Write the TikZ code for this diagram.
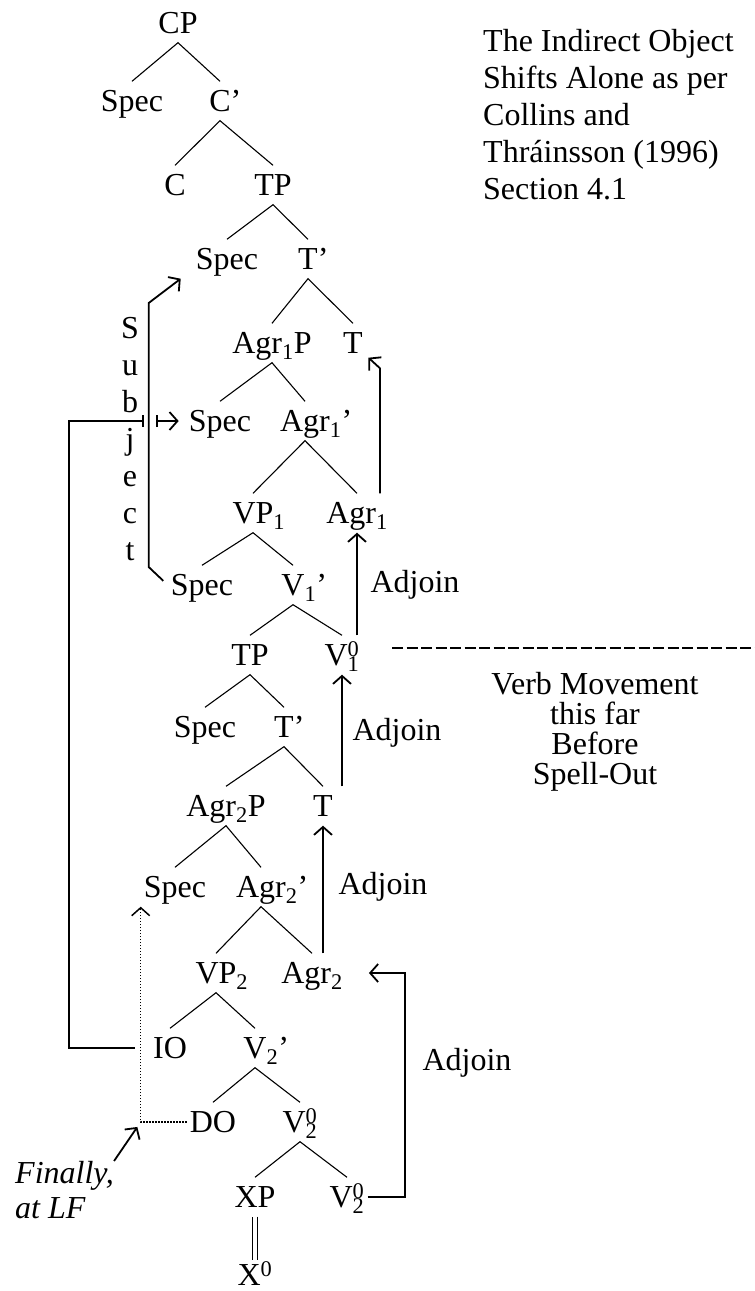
\documentclass[tikz,border=0pt]{standalone}
\usepackage{fontspec}
\setmainfont{Liberation Serif}
\usetikzlibrary{arrows.meta}
\newcommand{\Vnull}[1]{V\rlap{\textsubscript{#1}}\textsuperscript{0}}

\begin{document}
\begin{tikzpicture}[x=1pt,y=1pt,font=\fontsize{32}{37}\selectfont,>={Straight Barb[length=8pt,width=18pt]},
  lab/.style={text height=21pt,text depth=0pt,inner xsep=3pt,inner ysep=9pt},
  branch/.style={line width=1.1pt},
  arr/.style={line width=1.8pt,->}]
\useasboundingbox (0,0) rectangle (755,-1291);
% the tree
\node[lab] (cp) at (178,-23) {CP};
\node[lab] (spec1) at (132,-101) {Spec};
\node[lab] (cbar) at (220,-101) {C\rlap{'}};
\node[lab] (c) at (175,-185) {C};
\node[lab] (tp1) at (273,-185) {TP};
\node[lab] (spec2) at (227,-259) {Spec};
\node[lab] (tbar1) at (308,-259) {T\rlap{'}};
\node[lab] (agr1p) at (272,-343) {Agr\textsubscript{1}P};
\node[lab] (t1) at (353,-343) {T};
\node[lab] (spec3) at (220,-421) {Spec};
\node[lab] (agr1bar) at (305,-421) {Agr\rlap{\textsubscript{1}'}};
\node[lab] (vp1) at (253,-513) {VP\rlap{\textsubscript{1}}};
\node[lab] (agr1) at (357,-513) {Agr\textsubscript{1}};
\node[lab] (spec4) at (202,-585) {Spec};
\node[lab] (v1bar) at (293,-585) {V\rlap{\textsubscript{1}'}};
\node[lab] (tp2) at (250,-655) {TP};
\node[lab] (v1) at (342,-655) {\Vnull{1}};
\node[lab] (spec5) at (205,-727) {Spec};
\node[lab] (tbar2) at (284,-727) {T\rlap{'}};
\node[lab] (agr2p) at (226,-806) {Agr\textsubscript{2}P};
\node[lab] (t2) at (323,-806) {T};
\node[lab] (spec6) at (175,-887) {Spec};
\node[lab] (agr2bar) at (261,-887) {Agr\rlap{\textsubscript{2}'}};
\node[lab] (vp2) at (216,-973) {VP\rlap{\textsubscript{2}}};
\node[lab] (agr2) at (312,-973) {Agr\textsubscript{2}};
\node[lab] (io) at (170,-1048) {IO};
\node[lab] (v2bar) at (255,-1048) {V\rlap{\textsubscript{2}'}};
\node[lab] (do) at (213,-1122) {DO};
\node[lab] (v2a) at (300,-1122) {\Vnull{2}};
\node[lab] (xp) at (255,-1197) {XP};
\node[lab] (v2b) at (347,-1197) {\Vnull{2}};
\node[lab,inner ysep=4pt] (x0) at (255,-1275) {X\textsuperscript{0}};
\draw[branch] (spec1.north)--(cp.south)--(cbar.north); \draw[branch] (c.north)--(cbar.south)--(tp1.north);
\draw[branch] (spec2.north)--(tp1.south)--(tbar1.north); \draw[branch] (agr1p.north)--(tbar1.south)--(t1.north);
\draw[branch] (spec3.north)--(agr1p.south)--(agr1bar.north); \draw[branch] (vp1.north)--(agr1bar.south)--(agr1.north);
\draw[branch] (spec4.north)--(vp1.south)--(v1bar.north); \draw[branch] (tp2.north)--(v1bar.south)--(v1.north);
\draw[branch] (spec5.north)--(tp2.south)--(tbar2.north); \draw[branch] (agr2p.north)--(tbar2.south)--(t2.north);
\draw[branch] (spec6.north)--(agr2p.south)--(agr2bar.north); \draw[branch] (vp2.north)--(agr2bar.south)--(agr2.north);
\draw[branch] (io.north)--(vp2.south)--(v2bar.north); \draw[branch] (do.north)--(v2bar.south)--(v2a.north);
\draw[branch] (xp.north)--(v2a.south)--(v2b.north);
\draw[branch,double,double distance=4pt] (xp.south)--(x0.north);
% head movement
\draw[arr] (v2b.east) -- ++(37,0) |- (agr2.east) [shorten >=23pt];
\draw[arr] (t2.south |- agr2.north) -- (t2.south); \draw[arr] (v1.south |- t2.north) -- (v1.south);
\draw[arr] (agr1.south |- v1.north) -- (agr1.south);
\draw[arr] ([xshift=23pt]agr1.north) -- ++(0,125) -- ([shift={(2.5pt,5pt)}]t1.south east);
\node (adj1) at (415,-585) {Adjoin};
\node (adj2) at (397,-733) {Adjoin};
\node (adj3) at (383,-887) {Adjoin};
\node (adj4) at (467,-1063) {Adjoin};
% subject and objects
\draw[arr,shorten <=6pt] (spec4.west) -- ++(-19,18) -- ++(0,264) -- ([xshift=-12pt]spec2.south west);
\node[align=center,inner sep=0pt] (subj) at (130,-439) {S\\u\\b\\j\\e\\c\\t};
\draw[arr,-{Bar[width=12pt]},shorten <=15pt] (io.west) -- ++(-81,0) |- ([xshift=-42pt]spec3.west);
\draw[arr,{Bar[width=12pt]}->,shorten >=7pt] ([xshift=-30pt]spec3.west) -- (spec3.west);
\draw[line width=1.5pt,dash pattern=on 1.5pt off 1.5pt,->] (do.west) -| (spec6.south west);
\node[font=\fontsize{32}{35}\selectfont\itshape,align=left,anchor=north west,inner sep=0pt] (fin) at (15,-1161) {Finally,\\at LF};
\draw[arr,shorten >=6pt] (fin.north east) -- (do.west -| spec6.west);
% notes
\draw[line width=1.8pt,dash pattern=on 11pt off 3.5pt] (392,-648) -- (755,-648);
\node[font=\fontsize{32}{30}\selectfont,align=center,anchor=north,inner sep=0pt] (verb) at (595,-672) {Verb Movement\\this far\\Before\\Spell-Out};
\node[align=left,anchor=north west,inner sep=0pt] (title) at (483,-29) {The Indirect Object\\Shifts Alone as per\\Collins and\\Thráinsson (1996)\\Section 4.1};
\end{tikzpicture}
\end{document}
